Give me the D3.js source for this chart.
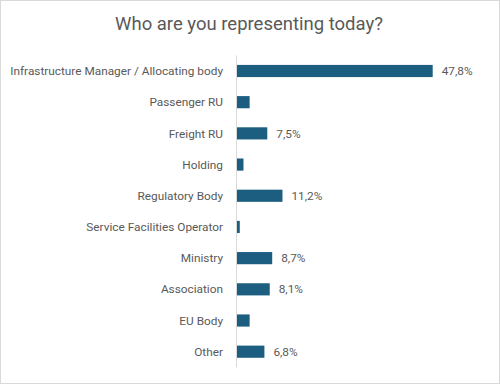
<!DOCTYPE html>
<html>
<head>
<meta charset="utf-8">
<script src="https://cdn.jsdelivr.net/npm/d3@7"></script>
<style>
  html, body { margin: 0; padding: 0; background: #fff; }
  svg { display: block; }
  text { font-family: Roboto, Lato, sans-serif; fill: #595959; }
</style>
</head>
<body>
<svg id="chart" width="500" height="384"></svg>
<script>
const title = "Who are you representing today?";
const categories = [
  "Infrastructure Manager / Allocating body",
  "Passenger RU",
  "Freight RU",
  "Holding",
  "Regulatory Body",
  "Service Facilities Operator",
  "Ministry",
  "Association",
  "EU Body",
  "Other"
];
const values = [47.8, 3.2, 7.5, 1.7, 11.2, 0.8, 8.7, 8.1, 3.2, 6.8];
const valueLabels = ["47,8%", "", "7,5%", "", "11,2%", "", "8,7%", "8,1%", "", "6,8%"];

const W = 500, H = 384;
const svg = d3.select("#chart");

// frame
svg.append("rect")
  .attr("x", 0.5).attr("y", 0.5)
  .attr("width", W - 1).attr("height", H - 1)
  .attr("fill", "#fff").attr("stroke", "#d9d9d9").attr("stroke-width", 1);

// fit a text element's font size to a target width
function fit(sel, target, base) {
  const len = sel.node().getComputedTextLength();
  return base * target / len;
}

const titleEl = svg.append("text")
  .attr("x", 249).attr("y", 30)
  .attr("text-anchor", "middle")
  .style("font-size", "19px")
  .text(title);
titleEl.style("font-size", fit(titleEl, 268, 19) + "px");

const plotLeft = 236.5, plotTop = 55.4, plotBottom = 367.3;
const x = d3.scaleLinear().domain([0, 47.8]).range([plotLeft, 432.7]);
const y = d3.scaleBand().domain(categories).range([plotTop, plotBottom]).paddingInner(0.61).paddingOuter(0.305);

const data = categories.map((c, i) => ({ c, v: values[i], l: valueLabels[i] }));

svg.append("g").selectAll("rect").data(data).join("rect")
  .attr("x", x(0))
  .attr("y", d => y(d.c))
  .attr("width", d => x(d.v) - x(0))
  .attr("height", y.bandwidth())
  .attr("fill", "#1c5e80");

// axis line
svg.append("line")
  .attr("x1", plotLeft).attr("x2", plotLeft)
  .attr("y1", plotTop).attr("y2", plotBottom)
  .attr("stroke", "#d9d9d9").attr("stroke-width", 1);

// category labels
const catLabels = svg.append("g").selectAll("text").data(data).join("text")
  .attr("x", 223)
  .attr("y", d => y(d.c) + y.bandwidth() / 2)
  .attr("dy", "0.35em")
  .attr("text-anchor", "end")
  .style("font-size", "12px")
  .text(d => d.c);
const labelSize = fit(d3.select(catLabels.nodes()[0]), 213, 12);
catLabels.style("font-size", labelSize + "px");

// value labels
svg.append("g").selectAll("text").data(data.filter(d => d.l)).join("text")
  .attr("x", d => x(d.v) + 9)
  .attr("y", d => y(d.c) + y.bandwidth() / 2)
  .attr("dy", "0.35em")
  .style("font-size", labelSize + "px")
  .text(d => d.l);
</script>
</body>
</html>
